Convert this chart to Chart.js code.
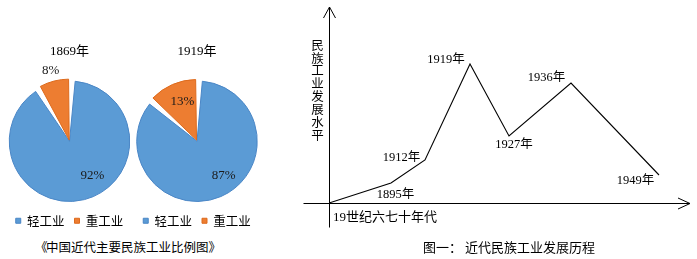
<!DOCTYPE html>
<html>
<head>
<meta charset="utf-8">
<script src="https://cdn.jsdelivr.net/npm/chart.js@4.4.0/dist/chart.umd.min.js"></script>
<style>
  body { margin: 0; background: #fff; width: 697px; height: 259px; overflow: hidden; position: relative; }
  canvas { position: absolute; }
  .cap { position: absolute; font: 12.5px/16px "Noto Sans CJK SC", sans-serif; color: #000; white-space: nowrap; }
  .br { display: inline-block; width: 11px; text-align: center; }
</style>
</head>
<body>
<canvas id="pie1869" width="140" height="207" style="left:0;top:30px"></canvas>
<canvas id="pie1919" width="138" height="207" style="left:128px;top:30px"></canvas>
<canvas id="lineChart" width="397" height="259" style="left:300px;top:0"></canvas>
<div class="cap" style="left:35px;top:239px"><span class="br">《</span>中国近代主要民族工业比例图<span class="br">》</span></div>
<div class="cap" style="left:509px;top:239px;font-size:13px;transform:translateX(-50%)">图一： 近代民族工业发展历程</div>

<script>
// Pie data (percent)
const industryTypes = ['轻工业', '重工业'];
const share1869 = [92, 8];
const share1919 = [87, 13];

// Line data: schematic position along the timeline and development level
const stageLabels = ['19世纪六七十年代', '1895年', '1912年', '1919年', '1927年', '1936年', '1949年'];
const timeline = [0, 62, 96, 141, 180, 242, 330];
const level = [0, 20, 43, 139, 67, 120, 28];

const serifCJK = '"Liberation Serif", "Noto Sans CJK SC", serif';
const sansCJK = '"Noto Sans CJK SC", sans-serif';

const pieFill = ['#5b9bd5', '#ed7d31'];
const pieEdge = ['#4a86c6', '#dd6a1c'];

// Percentage labels placed by angle (deg clockwise from top) and radius fraction
const pctLabels = {
    id: 'pctLabels',
    afterDatasetsDraw(chart, args, opts) {
        const meta = chart.getDatasetMeta(0);
        const values = chart.data.datasets[0].data;
        const ctx = chart.ctx;
        ctx.save();
        ctx.font = '13px ' + serifCJK;
        ctx.fillStyle = '#1a1a1a';
        ctx.textAlign = 'center';
        ctx.textBaseline = 'middle';
        meta.data.forEach((arc, i) => {
            const [deg, f] = opts.place[i];
            const a = deg * Math.PI / 180;
            const r = arc.outerRadius * f;
            ctx.fillText(values[i] + '%', arc.x + r * Math.sin(a), arc.y - r * Math.cos(a));
        });
        ctx.restore();
    }
};

function makePie(id, title, values, place, pad) {
    return new Chart(document.getElementById(id), {
        type: 'pie',
        data: {
            labels: industryTypes,
            datasets: [{
                data: values,
                backgroundColor: pieFill,
                borderColor: pieEdge,
                borderWidth: 1,
                offset: [0, 5],
                spacing: 2
            }]
        },
        options: {
            responsive: false,
            animation: false,
            layout: { padding: pad },
            plugins: {
                title: {
                    display: true,
                    text: title,
                    color: '#000',
                    font: { family: serifCJK, size: 13, weight: 'normal' },
                    padding: { top: 14, bottom: 18.4 }
                },
                legend: {
                    position: 'bottom',
                    labels: {
                        boxWidth: 5,
                        boxHeight: 5,
                        padding: 10,
                        color: '#000',
                        font: { family: sansCJK, size: 12.5 }
                    }
                },
                tooltip: { enabled: false },
                pctLabels: { place: place }
            }
        },
        plugins: [pctLabels]
    });
}

makePie('pie1869', '1869年', share1869, [[146, 0.69], [345, 1.23]], { left: 0, right: 1 });
makePie('pie1919', '1919年', share1919, [[142, 0.73], [340, 0.72]], { left: 0, right: 0 });

// Axes with arrows, vertical axis title and stage labels
const labelShift = [[4, 15], [4.5, 12], [-23.5, -2], [-24, -4], [5, 9], [-24.5, -5], [-23.5, 6]];
const yTitle = '民族工业发展水平';

const lineDecor = {
    id: 'lineDecor',
    afterDraw(chart) {
        const { ctx, scales: { x, y } } = chart;
        const x0 = Math.round(x.getPixelForValue(0)) + 0.5;
        const y0 = Math.round(y.getPixelForValue(0)) + 0.5;
        const xEnd = x.right, yTop = y.top;
        ctx.save();
        ctx.strokeStyle = '#000';
        ctx.lineWidth = 1;
        ctx.beginPath();
        ctx.moveTo(x0, y0 + 24); ctx.lineTo(x0, yTop);
        ctx.moveTo(x0 - 6, yTop + 11); ctx.lineTo(x0, yTop); ctx.lineTo(x0 + 6, yTop + 11);
        ctx.moveTo(x0 - 26, y0); ctx.lineTo(xEnd, y0);
        ctx.moveTo(xEnd - 12, y0 - 5.5); ctx.lineTo(xEnd, y0); ctx.lineTo(xEnd - 12, y0 + 5.5);
        ctx.stroke();

        ctx.fillStyle = '#000';
        ctx.textBaseline = 'middle';
        ctx.textAlign = 'center';
        ctx.font = '12.5px ' + sansCJK;
        [...yTitle].forEach((ch, i) => ctx.fillText(ch, x0 - 12, 45 + i * 12.85));

        const meta = chart.getDatasetMeta(0);
        meta.data.forEach((pt, i) => {
            const [dx, dy] = labelShift[i];
            if (i === 0) {
                ctx.textAlign = 'left';
                ctx.font = '13px ' + serifCJK;
            } else {
                ctx.textAlign = 'center';
                ctx.font = '12.5px ' + serifCJK;
            }
            ctx.fillText(stageLabels[i], pt.x + dx, pt.y + dy);
        });
        ctx.restore();
    }
};

new Chart(document.getElementById('lineChart'), {
    type: 'line',
    data: {
        datasets: [{
            data: timeline.map((t, i) => ({ x: t, y: level[i] })),
            borderColor: '#000',
            borderWidth: 1.1,
            pointRadius: 0,
            tension: 0,
            fill: false
        }]
    },
    options: {
        responsive: false,
        animation: false,
        layout: { padding: { left: 29, right: 7, top: 7, bottom: 56 } },
        scales: {
            x: { type: 'linear', min: 0, max: 361, display: false },
            y: { min: 0, max: 196, display: false }
        },
        plugins: { legend: { display: false }, tooltip: { enabled: false } }
    },
    plugins: [lineDecor]
});
</script>
</body>
</html>
